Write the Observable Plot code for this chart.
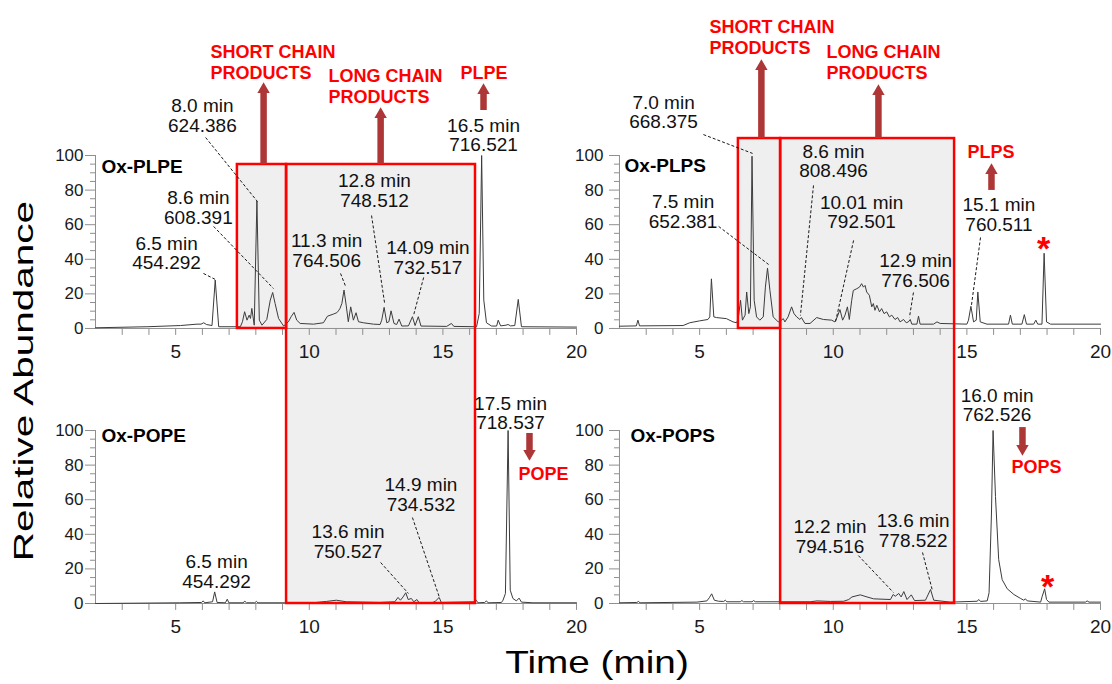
<!DOCTYPE html>
<html>
<head>
<meta charset="utf-8">
<script src="https://cdn.jsdelivr.net/npm/d3@7"></script>
<script src="https://cdn.jsdelivr.net/npm/@observablehq/plot@0.6"></script>
<style>
  html, body { margin: 0; padding: 0; background: #fff; }
  #wrap { position: relative; width: 1112px; height: 684px; overflow: hidden;
          font-family: 'Liberation Sans', Arial, Helvetica, sans-serif; }
  #wrap svg { position: absolute; left: 0; top: 0; }
  .ytitle { position: absolute; left: 24px; top: 381px; font-size: 27px; line-height: 1;
            white-space: nowrap; color: #000;
            transform: translate(-50%, -50%) rotate(-90deg) scaleX(1.5); }
  .xtitle { position: absolute; left: 597px; top: 646px; font-size: 32px; line-height: 1;
            white-space: nowrap; color: #000; transform: translateX(-50%) scaleX(1.21); }
</style>
</head>
<body>
<div id="wrap">
  <div class="ytitle">Relative Abundance</div>
  <div class="xtitle">Time (min)</div>
</div>
<script>
// ---------------- data: chromatograms [time (min), relative abundance (%)] ----------------
const oxPLPE = [[2.00,0.4],[3.93,1.0],[5.18,1.7],[5.80,2.5],[5.95,2.5],[6.05,3.3],[6.15,2.3],[6.36,1.7],[6.48,28.0],[6.61,1.0],[7.42,1.0],[7.50,3.9],[7.58,9.7],[7.67,4.8],[7.75,7.7],[7.80,5.8],[7.85,11.6],[7.94,1.9],[8.04,73.7],[8.13,4.8],[8.23,1.9],[8.41,5.2],[8.54,16.4],[8.63,20.8],[8.72,14.5],[8.85,5.8],[9.04,1.4],[9.22,3.9],[9.32,6.8],[9.43,9.3],[9.53,4.8],[9.66,2.9],[10.16,2.5],[10.53,3.3],[10.68,7.1],[10.90,8.3],[11.03,9.1],[11.09,10.2],[11.15,11.6],[11.22,14.5],[11.30,22.2],[11.38,13.5],[11.46,3.9],[11.55,12.5],[11.65,4.8],[11.75,9.1],[11.84,3.9],[12.02,3.3],[12.40,2.5],[12.65,2.3],[12.71,4.8],[12.80,12.2],[12.90,3.3],[12.98,3.9],[13.06,10.2],[13.17,2.9],[13.27,2.3],[13.36,5.4],[13.46,1.4],[13.71,1.5],[13.86,6.8],[13.96,1.7],[14.08,6.8],[14.18,1.4],[15.14,1.2],[15.32,2.9],[15.41,1.2],[16.26,1.0],[16.36,8.7],[16.45,100],[16.53,16.4],[16.63,3.3],[16.82,1.4],[17.01,1.4],[17.07,4.8],[17.16,1.5],[17.36,1.9],[17.44,2.3],[17.53,1.5],[17.69,1.7],[17.82,16.8],[17.94,1.0],[20.00,0.8]];

const oxPLPS = [[2.00,1.3],[2.63,1.5],[2.69,4.8],[2.75,1.5],[4.38,1.7],[4.63,3.3],[5.00,4.4],[5.31,5.2],[5.38,6.7],[5.44,28.7],[5.53,6.7],[5.63,6.3],[6.00,5.7],[6.25,3.8],[6.38,3.3],[6.44,5.2],[6.53,16.3],[6.60,4.8],[6.70,7.7],[6.76,21.1],[6.84,8.6],[6.90,12.5],[6.96,99.6],[7.04,16.3],[7.13,6.7],[7.25,4.8],[7.38,6.7],[7.46,23.9],[7.54,34.9],[7.63,22.0],[7.75,6.7],[7.94,3.8],[8.06,4.8],[8.13,5.7],[8.19,3.8],[8.31,6.7],[8.44,12.5],[8.53,8.6],[8.63,6.7],[8.75,5.2],[8.81,6.3],[8.94,2.9],[9.13,2.9],[9.38,6.3],[9.63,5.2],[9.94,4.8],[10.06,3.8],[10.15,6.7],[10.25,10.9],[10.35,4.8],[10.44,7.7],[10.53,12.5],[10.60,5.2],[10.69,16.3],[10.75,22.0],[10.88,23.0],[10.98,23.9],[11.06,25.9],[11.13,23.9],[11.19,24.9],[11.25,21.1],[11.35,19.2],[11.44,12.5],[11.50,14.4],[11.56,10.5],[11.63,13.4],[11.73,9.6],[11.81,11.5],[11.90,8.6],[12.00,9.6],[12.10,6.7],[12.19,7.7],[12.31,5.2],[12.41,6.3],[12.50,3.8],[12.63,5.2],[12.73,3.3],[12.81,3.8],[12.88,5.2],[12.94,2.5],[13.13,2.5],[13.19,7.1],[13.25,2.5],[13.75,2.5],[13.88,3.8],[14.00,2.9],[15.00,2.5],[15.06,4.8],[15.15,12.8],[15.25,3.8],[15.35,4.8],[15.41,21.1],[15.50,3.8],[15.75,2.5],[16.56,2.5],[16.63,7.7],[16.70,2.5],[17.06,2.5],[17.15,8.0],[17.23,2.5],[17.50,2.5],[17.58,4.8],[17.65,2.5],[17.81,2.5],[17.89,43.5],[17.98,3.8],[18.13,2.5],[20.00,2.5]];

const oxPOPE = [[2.00,0.0],[5.15,0.4],[5.97,0.6],[6.03,1.5],[6.09,0.4],[6.38,1.0],[6.46,6.7],[6.55,0.6],[6.86,0.4],[6.93,2.5],[6.99,0.4],[7.52,0.4],[7.59,1.3],[7.65,0.4],[7.96,0.4],[8.02,1.2],[8.08,0.4],[10.14,0.4],[10.64,1.2],[11.01,1.9],[11.39,1.0],[12.64,0.6],[13.20,1.0],[13.32,3.5],[13.41,1.9],[13.51,3.8],[13.61,6.2],[13.70,2.3],[13.82,2.9],[13.91,1.0],[14.03,2.3],[14.11,0.4],[14.63,0.6],[14.73,1.5],[14.86,3.5],[14.94,0.6],[16.19,1.0],[16.25,1.9],[16.31,0.4],[16.56,0.6],[16.63,1.5],[16.69,0.4],[17.19,0.6],[17.25,1.9],[17.34,5.8],[17.44,100],[17.52,7.7],[17.62,2.9],[17.75,1.5],[17.85,3.1],[17.94,0.8],[18.37,0.4],[20.00,0.4]];

const oxPOPS = [[2.00,0.4],[2.65,0.6],[2.71,1.2],[2.77,0.4],[4.90,0.8],[5.27,1.5],[5.36,3.3],[5.45,5.6],[5.55,1.9],[5.71,1.3],[5.90,1.2],[5.96,1.9],[6.02,1.0],[6.52,1.0],[6.58,1.7],[6.64,1.0],[6.96,1.0],[7.02,1.7],[7.08,1.0],[9.14,1.0],[9.39,1.5],[9.89,1.2],[10.39,1.3],[10.58,2.3],[10.70,3.8],[11.01,5.0],[11.26,3.8],[11.51,2.7],[12.14,2.3],[12.24,5.2],[12.32,4.2],[12.45,5.8],[12.54,3.8],[12.64,6.9],[12.76,2.3],[12.92,5.0],[13.04,1.7],[13.45,1.9],[13.64,8.1],[13.76,1.9],[14.38,0.8],[15.38,1.3],[15.45,2.3],[15.51,1.2],[15.76,1.5],[15.83,6.2],[15.92,52.3],[15.98,100],[16.07,61.9],[16.19,25.4],[16.32,13.8],[16.51,8.5],[16.76,5.2],[17.01,2.9],[17.13,1.9],[17.19,2.7],[17.26,1.5],[17.76,0.8],[17.82,4.2],[17.91,8.5],[17.98,2.3],[18.07,0.8],[19.44,0.8],[19.50,1.5],[19.57,0.8],[20.00,0.8]];

// ---------------- axis ticks ----------------
const xMinorTicks = [3,4,5,6,7,8,9,10,11,12,13,14,15,16,17,18,19,20];
const xTickLabels = [5,10,15,20];
const yMinorTicks = [0,5,10,15,20,25,30,35,40,45,50,55,60,65,70,75,80,85,90,95,100];
const yTickLabels = [0,20,40,60,80,100];

// ---------------- panels ----------------
const panels = [
  {name: "Ox-PLPE", col: "L", row: "top", pts: oxPLPE, title: [2.22, 93.6]},
  {name: "Ox-PLPS", col: "R", row: "top", pts: oxPLPS, title: [2.19, 93.9]},
  {name: "Ox-POPE", col: "L", row: "bot", pts: oxPOPE, title: [2.22, 96.8]},
  {name: "Ox-POPS", col: "R", row: "bot", pts: oxPOPS, title: [2.41, 96.8]}
];

// peak annotations: label, label anchor [t, %], leader start and end [t, %]
const peakLabels = [
  {col:"L", row:"top", text:"8.0 min\n624.386",   at:[6.00,123.1], from:[6.12,110.4], to:[8.06,73.4]},
  {col:"L", row:"top", text:"8.6 min\n608.391",   at:[5.85,69.9],  from:[6.42,59.0],  to:[8.66,23.1]},
  {col:"L", row:"top", text:"6.5 min\n454.292",   at:[4.66,43.6],  from:[6.04,31.8],  to:[6.49,28.3]},
  {col:"L", row:"top", text:"11.3 min\n764.506",  at:[10.65,45.1], from:[11.17,31.8], to:[11.36,24.3]},
  {col:"L", row:"top", text:"12.8 min\n748.512",  at:[12.44,79.8], from:[12.33,65.3], to:[12.82,14.5]},
  {col:"L", row:"top", text:"14.09 min\n732.517", at:[14.44,40.8], from:[14.28,29.5], to:[13.90,7.5]},
  {col:"L", row:"top", text:"16.5 min\n716.521",  at:[16.52,111.6]},
  {col:"R", row:"top", text:"7.0 min\n668.375",   at:[3.65,124.9], from:[5.14,112.1], to:[6.98,101.2]},
  {col:"R", row:"top", text:"7.5 min\n652.381",   at:[4.38,67.6],  from:[5.71,59.0],  to:[7.58,37.0]},
  {col:"R", row:"top", text:"8.6 min\n808.496",   at:[10.01,96.8], from:[9.26,82.7],  to:[8.77,7.5]},
  {col:"R", row:"top", text:"10.01 min\n792.501", at:[11.06,67.1], from:[10.76,50.9], to:[10.08,3.5]},
  {col:"R", row:"top", text:"12.9 min\n776.506",  at:[13.08,33.5], from:[13.00,20.8], to:[12.85,6.4]},
  {col:"R", row:"top", text:"15.1 min\n760.511",  at:[16.20,65.6], from:[15.51,52.6], to:[15.17,13.3]},
  {col:"L", row:"bot", text:"6.5 min\n454.292",   at:[6.53,18.5]},
  {col:"L", row:"bot", text:"13.6 min\n750.527",  at:[11.45,35.8], from:[12.67,23.7], to:[13.71,5.8]},
  {col:"L", row:"bot", text:"14.9 min\n734.532",  at:[14.18,63.0], from:[13.86,49.7], to:[14.87,3.5]},
  {col:"L", row:"bot", text:"17.5 min\n718.537",  at:[17.53,110.1]},
  {col:"R", row:"bot", text:"16.0 min\n762.526",  at:[16.13,114.7]},
  {col:"R", row:"bot", text:"12.2 min\n794.516",  at:[9.88,38.7],  from:[10.94,27.7], to:[12.25,6.4]},
  {col:"R", row:"bot", text:"13.6 min\n778.522",  at:[12.99,42.2], from:[13.34,29.5], to:[13.71,7.5]}
];

// product regions [t1, t2] and their vertical extent (row, %)
const regions = [
  {col:"L", t1:7.31, t2:9.15,  from:["top",0], to:["top",94.8]},
  {col:"L", t1:9.15, t2:16.22, from:["bot",0], to:["top",94.8]},
  {col:"R", t1:6.45, t2:8.03,  from:["top",0], to:["top",109.8]},
  {col:"R", t1:8.03, t2:14.54, from:["bot",0], to:["top",109.8]}
];

const redLabels = [
  {col:"L", row:"top", text:"SHORT CHAIN\nPRODUCTS", at:[6.30,154.3]},
  {col:"L", row:"top", text:"LONG CHAIN\nPRODUCTS",  at:[10.72,140.5]},
  {col:"L", row:"top", text:"PLPE",                  at:[15.66,148.3]},
  {col:"R", row:"top", text:"SHORT CHAIN\nPRODUCTS", at:[5.37,168.8]},
  {col:"R", row:"top", text:"LONG CHAIN\nPRODUCTS",  at:[9.75,154.3]},
  {col:"R", row:"top", text:"PLPS",                  at:[15.02,102.3]},
  {col:"L", row:"bot", text:"POPE",                  at:[17.83,75.4]},
  {col:"R", row:"bot", text:"POPS",                  at:[16.67,79.5]}
];

// arrows: time, base %, tip % (row-relative)
const arrows = [
  {col:"L", row:"top", t:8.29,  base:94.8,  tip:142.2},
  {col:"L", row:"top", t:12.67, base:94.8,  tip:127.7},
  {col:"L", row:"top", t:16.52, base:126.0, tip:141.6},
  {col:"R", row:"top", t:7.31,  base:109.8, tip:155.5},
  {col:"R", row:"top", t:11.69, base:109.8, tip:141.0},
  {col:"R", row:"top", t:15.92, base:79.8,  tip:95.4},
  {col:"L", row:"bot", t:18.24, base:98.3,  tip:82.7},
  {col:"R", row:"bot", t:17.08, base:101.7, tip:85.5}
];

const stars = [
  {col:"R", row:"top", at:[17.87,45.8]},
  {col:"R", row:"bot", at:[18.02,9.7]}
];

// ---------------- build ----------------
const FONT = "'Liberation Sans', Arial, Helvetica, sans-serif";
const SHIFT = 159;                       // upper row sits above the lower one on a stacked y scale
const Y = (row, v) => v + (row === "top" ? SHIFT : 0);
const rowsAll = ["top", "bot"];
const AX = "#8f8f8f";
const ARROW = "#ad3636";
const HEAD = 4.0;

const points = panels.flatMap(p => p.pts.map(([t, v]) => ({name: p.name, col: p.col, t, y: Y(p.row, v)})));
const baselines = rowsAll.map(r => Y(r, 0));
const xTickData = rowsAll.flatMap(r => xMinorTicks.map(t => ({t, y: Y(r, 0)})));
const xLabelData = rowsAll.flatMap(r => xTickLabels.map(t => ({t, y: Y(r, 0)})));
const yTickData = rowsAll.flatMap(r => yMinorTicks.map(v => ({v, y: Y(r, v), major: v % 20 === 0})));
const yLabelData = ["L", "R"].flatMap(c => rowsAll.flatMap(r => yTickLabels.map(v => ({col: c, v, y: Y(r, v)}))));
const boxData = regions.map(b => ({col: b.col, t1: b.t1, t2: b.t2, y1: Y(b.from[0], b.from[1]), y2: Y(b.to[0], b.to[1])}));
const labelData = peakLabels.map(d => ({...d, x: d.at[0], y: Y(d.row, d.at[1])}));
const leaderData = peakLabels.filter(d => d.from).map(d => ({col: d.col, x1: d.from[0], y1: Y(d.row, d.from[1]), x2: d.to[0], y2: Y(d.row, d.to[1])}));
const redData = redLabels.map(d => ({...d, x: d.at[0], y: Y(d.row, d.at[1])}));
const arrowData = arrows.map(a => {
  const dir = a.tip > a.base ? 1 : -1;
  return {col: a.col, t: a.t, y1: Y(a.row, a.base), head: Y(a.row, a.tip - dir * HEAD), rot: dir > 0 ? 0 : 180};
});
const starData = stars.map(s => ({col: s.col, x: s.at[0], y: Y(s.row, s.at[1])}));
const titleData = panels.map(p => ({col: p.col, name: p.name, x: p.title[0], y: Y(p.row, p.title[1])}));

const chart = Plot.plot({
  width: 1112,
  height: 684,
  marginLeft: 95,
  marginRight: 12,
  marginTop: 155,
  marginBottom: 81,
  style: {fontFamily: FONT, background: "transparent", overflow: "visible"},
  fx: {domain: ["L", "R"], axis: null, paddingInner: 0.082, paddingOuter: 0, round: false, label: null},
  x: {domain: [2, 20], axis: null},
  y: {domain: [0, SHIFT + 100], axis: null},
  marks: [
    Plot.rect(boxData, {fx: "col", x1: "t1", x2: "t2", y1: "y1", y2: "y2", fill: "#efefef"}),
    // axes
    Plot.ruleY(baselines, {y: d => d, x1: 2, x2: 20, stroke: AX, strokeWidth: 1}),
    Plot.ruleX(rowsAll, {x: 2, y1: r => Y(r, 0), y2: r => Y(r, 100), stroke: AX, strokeWidth: 1}),
    Plot.ruleX(xTickData, {x: "t", y1: "y", y2: d => d.y - 4, stroke: AX, strokeWidth: 1}),
    Plot.ruleY(yTickData, {y: "y", x1: d => 2 - (d.major ? 0.374 : 0.187), x2: 2, stroke: AX, strokeWidth: 1}),
    Plot.text(xLabelData, {x: "t", y: "y", dy: 23, text: d => String(d.t), fontSize: 19, fill: "#1a1a1a"}),
    Plot.text(yLabelData.filter(d => d.col === "L"), {fx: "col", x: 2, y: "y", dx: -12, textAnchor: "end", text: d => String(d.v), fontSize: 17, fill: "#1a1a1a"}),
    Plot.text(yLabelData.filter(d => d.col === "R"), {fx: "col", x: 2, y: "y", dx: -16, textAnchor: "end", text: d => String(d.v), fontSize: 17, fill: "#1a1a1a"}),
    // chromatograms
    Plot.line(points, {fx: "col", x: "t", y: "y", z: "name", stroke: "#3c3c3c", strokeWidth: 1}),
    // region outlines
    Plot.rect(boxData, {fx: "col", x1: "t1", x2: "t2", y1: "y1", y2: "y2", fill: "none", stroke: "#ff0000", strokeWidth: 2.5}),
    // leaders and labels
    Plot.link(leaderData, {fx: "col", x1: "x1", y1: "y1", x2: "x2", y2: "y2", stroke: "#1a1a1a", strokeWidth: 1, strokeDasharray: "3,2"}),
    Plot.text(labelData, {fx: "col", x: "x", y: "y", text: "text", fontSize: 19, lineHeight: 1.03, fill: "#111"}),
    Plot.text(titleData, {fx: "col", x: "x", y: "y", text: "name", textAnchor: "start", fontSize: 19, fontWeight: "bold", fill: "#000"}),
    Plot.text(redData, {fx: "col", x: "x", y: "y", text: "text", textAnchor: "start", fontSize: 18, lineHeight: 1.2, fontWeight: "bold", fill: "#ff0000"}),
    Plot.text(starData, {fx: "col", x: "x", y: "y", text: d => "*", fontSize: 34, fontWeight: "bold", fill: "#ff0000"}),
    // arrows
    Plot.ruleX(arrowData, {fx: "col", x: "t", y1: "y1", y2: "head", stroke: ARROW, strokeWidth: 6.5}),
    Plot.dot(arrowData, {fx: "col", x: "t", y: "head", symbol: "triangle", r: 4.6, rotate: "rot", fill: ARROW})
  ]
});
document.getElementById("wrap").prepend(chart);
</script>
</body>
</html>
